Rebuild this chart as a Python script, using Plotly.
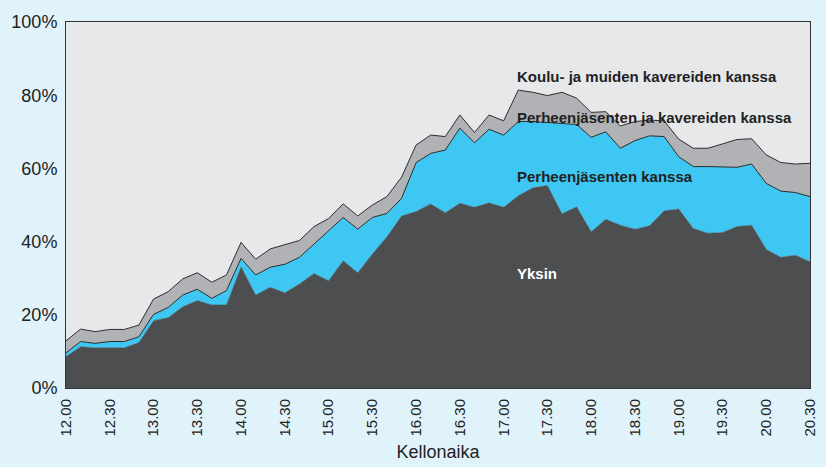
import plotly.graph_objects as go

# 10-minute steps from 12.00 to 20.30
time_labels = [f"{h}.{m:02d}" for h in range(12, 21) for m in (0, 10, 20, 30, 40, 50)][:52]
tick_labels = ["12.00", "12.30", "13.00", "13.30", "14.00", "14.30", "15.00", "15.30", "16.00",
               "16.30", "17.00", "17.30", "18.00", "18.30", "19.00", "19.30", "20.00", "20.30"]

yksin = [8.6, 11.3, 11.0, 11.0, 11.0, 12.4, 18.4, 19.2, 22.2, 23.9, 22.7, 22.7, 33.1, 25.4,
         27.5, 26.0, 28.4, 31.3, 29.3, 34.8, 31.5, 36.6, 41.3, 47.0, 48.2, 50.3, 47.9, 50.5,
         49.4, 50.6, 49.4, 52.5, 54.7, 55.3, 47.6, 49.5, 42.7, 46.1, 44.5, 43.4, 44.3, 48.4,
         48.9, 43.6, 42.3, 42.5, 44.1, 44.5, 37.9, 35.7, 36.3, 34.5]
perhe = [1.0, 1.4, 1.2, 1.7, 1.7, 1.6, 1.7, 2.8, 3.2, 3.1, 1.8, 3.9, 2.3, 5.5, 5.5, 7.8,
         7.3, 8.0, 13.6, 11.8, 11.9, 10.0, 6.4, 4.8, 13.4, 13.8, 17.1, 20.5, 17.6, 20.1,
         19.7, 20.3, 18.1, 17.2, 24.7, 22.5, 25.8, 23.9, 21.0, 24.2, 24.6, 20.3, 14.3, 16.9,
         18.2, 17.8, 16.2, 16.7, 18.0, 18.1, 17.1, 17.8]
perhe_kaverit = [3.3, 3.4, 3.2, 3.3, 3.3, 3.2, 4.2, 4.3, 4.4, 4.5, 4.4, 4.3, 4.4, 4.3, 5.0,
                 5.4, 4.6, 4.8, 3.4, 3.7, 3.6, 3.4, 4.6, 5.8, 4.8, 5.0, 3.7, 3.6, 2.8, 3.9,
                 3.9, 8.6, 8.0, 7.4, 8.5, 7.2, 6.8, 5.5, 6.1, 5.2, 4.3, 4.3, 4.8, 5.0, 5.0,
                 6.4, 7.6, 6.9, 7.8, 7.8, 7.8, 9.1]
koulu = [87.1, 83.9, 84.6, 84.0, 84.0, 82.8, 75.7, 73.7, 70.2, 68.5, 71.1, 69.1, 60.2, 64.8,
         62.0, 60.8, 59.7, 55.9, 53.7, 49.7, 53.0, 50.0, 47.7, 42.4, 33.6, 30.9, 31.3, 25.4,
         30.2, 25.4, 27.0, 18.6, 19.2, 20.1, 19.2, 20.8, 24.7, 24.5, 28.4, 27.2, 26.8, 27.0,
         32.0, 34.5, 34.5, 33.3, 32.1, 31.9, 36.3, 38.4, 38.8, 38.6]

series_names = ["Yksin", "Perheenjäsenten kanssa",
                "Perheenjäsenten ja kavereiden kanssa", "Koulu- ja muiden kavereiden kanssa"]

x = list(range(len(time_labels)))
DARK, BLUE, GRAY, LIGHT = "#4d4e50", "#3ec7f3", "#b1b2b5", "#e7e8ea"
LINE = "#2b2b2b"

fig = go.Figure()
fig.add_trace(go.Scatter(x=x, y=yksin, name=series_names[0], stackgroup="a", mode="lines",
                         line=dict(color=DARK, width=0.5), fillcolor=DARK))
fig.add_trace(go.Scatter(x=x, y=perhe, name=series_names[1], stackgroup="a", mode="lines",
                         line=dict(color=LINE, width=1), fillcolor=BLUE))
fig.add_trace(go.Scatter(x=x, y=perhe_kaverit, name=series_names[2], stackgroup="a", mode="lines",
                         line=dict(color=LINE, width=1), fillcolor=GRAY))
fig.add_trace(go.Scatter(x=x, y=koulu, name=series_names[3], stackgroup="a", mode="lines",
                         line=dict(color=LIGHT, width=0), fillcolor=LIGHT))

label_y = [31.4, 57.9, 73.8, 85.0]
label_colors = ["white", "#222222", "#222222", "#222222"]
for name, yy, col in zip(series_names, label_y, label_colors):
    fig.add_annotation(x=0.603, xref="paper", y=yy, yref="y", text=f"<b>{name}</b>",
                       showarrow=False, xanchor="left", yanchor="middle",
                       font=dict(family="Liberation Sans, Arial", size=15, color=col))

fig.update_layout(
    width=826, height=467,
    margin=dict(l=66, r=16, t=22, b=79),
    paper_bgcolor="#e0f3fb", plot_bgcolor=LIGHT,
    showlegend=False,
    font=dict(family="Liberation Sans, Arial", color="#222222"),
    xaxis=dict(range=[0, 51], tickmode="array", tickvals=x[::3], ticktext=tick_labels,
               tickangle=-90, tickfont=dict(size=15), showgrid=False, zeroline=False,
               showline=True, linecolor="#333333", linewidth=1, mirror=True, ticks="",
               automargin=False, ticklabelstandoff=4,
               title=dict(text="Kellonaika", font=dict(size=18), standoff=9)),
    yaxis=dict(range=[0, 100], tickvals=[0, 20, 40, 60, 80, 100],
               ticktext=["0%", "20%", "40%", "60%", "80%", "100%"], tickfont=dict(size=18),
               showgrid=False, zeroline=False, showline=True, linecolor="#333333",
               linewidth=1, mirror=True, ticks="", ticklabelstandoff=4, automargin=False),
)

fig.write_html("out.html", config={"displayModeBar": False},
               post_script="document.body.style.margin='0';document.body.style.background='#e0f3fb';")
